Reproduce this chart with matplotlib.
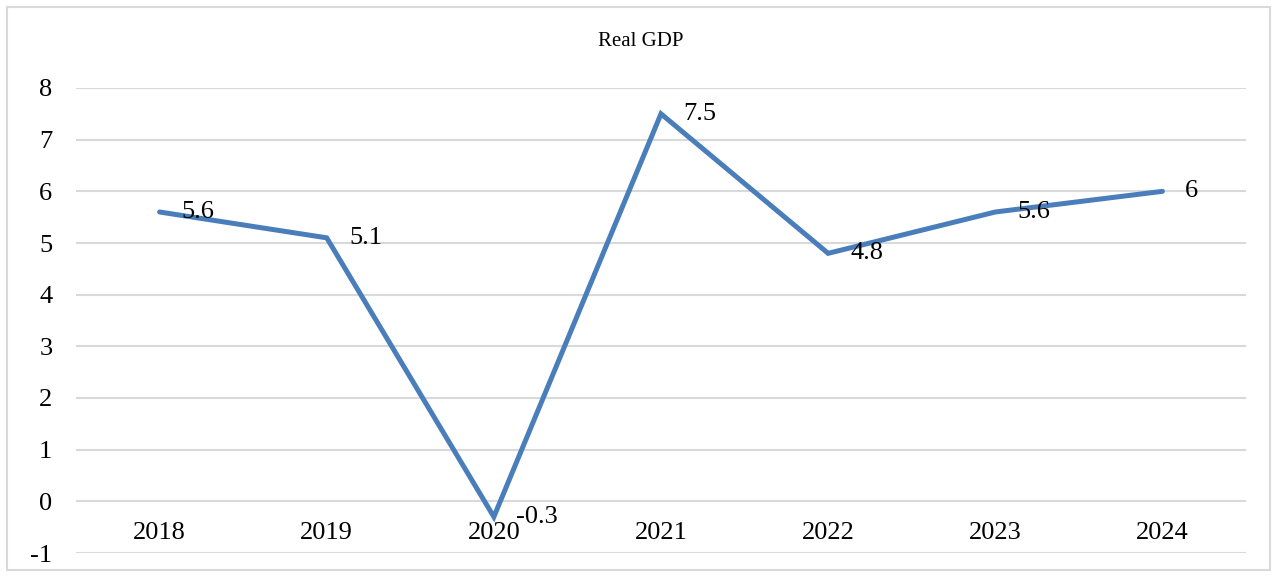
import matplotlib.pyplot as plt
from matplotlib.patches import Rectangle

plt.rcParams['font.family'] = ['Liberation Serif', 'DejaVu Serif']
plt.rcParams['axes.unicode_minus'] = False

years = ["2018", "2019", "2020", "2021", "2022", "2023", "2024"]
gdp = [5.6, 5.1, -0.3, 7.5, 4.8, 5.6, 6]
labels = ["5.6", "5.1", "-0.3", "7.5", "4.8", "5.6", "6"]
yticks = [-1, 0, 1, 2, 3, 4, 5, 6, 7, 8]

fig = plt.figure(figsize=(12.76, 5.77), dpi=100)
ax = fig.add_axes([76 / 1276, 1 - 553 / 577, 1170 / 1276, 465 / 577])

# chart border
fig.patches.append(Rectangle((7 / 1276, 7 / 577), 1263 / 1276, 563 / 577,
                             transform=fig.transFigure, fill=False,
                             edgecolor="#d9d9d9", linewidth=1.5))

x = list(range(len(years)))
ax.plot(x, gdp, color="#4a7ebb", linewidth=3.6, solid_capstyle="round",
        solid_joinstyle="miter", zorder=3)

for i, (v, s) in enumerate(zip(gdp, labels)):
    ax.annotate(s, (i, v), xytext=(16, 0), textcoords="offset points",
                ha="left", va="center", fontsize=19, zorder=4)

# category labels sit under the zero line
for i, yr in enumerate(years):
    ax.annotate(yr, (i, 0), xytext=(0, -23), textcoords="offset points",
                ha="center", va="center", fontsize=19)

ax.set_xlim(-0.5, len(years) - 0.5)
ax.set_ylim(-1, 8)
ax.set_yticks(yticks)
ax.set_yticklabels([str(t) for t in yticks], fontsize=19)
ax.set_xticks([])
ax.tick_params(axis="y", length=0, pad=17)
ax.grid(True, axis="y", color="#d9d9d9", linewidth=1.5)
ax.set_axisbelow(True)
for sp in ax.spines.values():
    sp.set_visible(False)

fig.text(641 / 1276, 1 - 42 / 577, "Real GDP", ha="center", va="center",
         fontsize=15)

fig.savefig("out.png", dpi=100)
